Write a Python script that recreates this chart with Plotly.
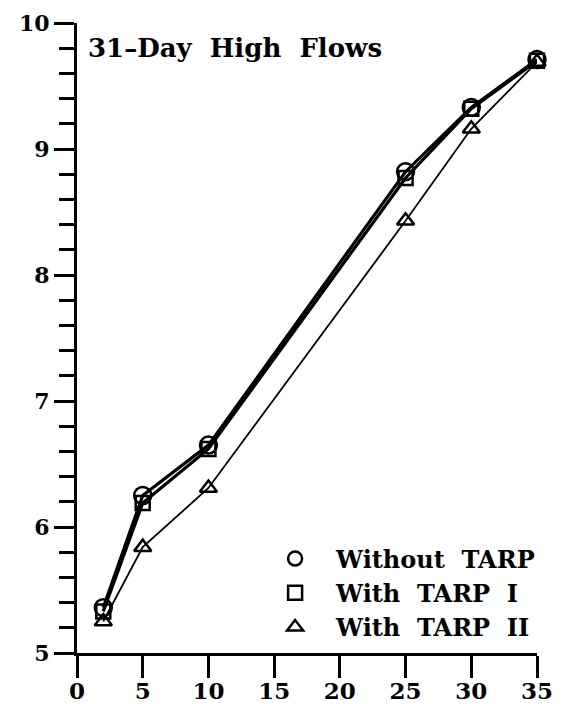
import plotly.graph_objects as go

x_vals = [2, 5, 10, 25, 30, 35]
without_tarp = [5.36, 6.25, 6.65, 8.82, 9.33, 9.71]
with_tarp_1 = [5.33, 6.19, 6.62, 8.77, 9.32, 9.70]
with_tarp_2 = [5.25, 5.84, 6.31, 8.43, 9.16, 9.69]
series_names = ["Without  TARP", "With  TARP  I", "With  TARP  II"]
x_ticks = [0, 5, 10, 15, 20, 25, 30, 35]
y_ticks = [5, 6, 7, 8, 9, 10]
title_text = "31\u2013Day  High  Flows"

FONT = "DejaVu Serif"
fig = go.Figure()

specs = [
    (with_tarp_2, series_names[2], "triangle-up-open", 1.8, 15),
    (with_tarp_1, series_names[1], "square-open", 3.2, 14),
    (without_tarp, series_names[0], "circle-open", 3.2, 17),
]
for ys, name, sym, lw, ms in specs:
    fig.add_trace(go.Scatter(
        x=x_vals, y=ys, mode="lines+markers", name=name, showlegend=False,
        line=dict(color="black", width=lw),
        marker=dict(symbol=sym, size=ms, color="black", line=dict(width=2.5, color="black")),
        cliponaxis=False,
    ))

# legend-only entries (markers only)
for i, (name, sym) in enumerate(zip(series_names, ["circle-open", "square-open", "triangle-up-open"])):
    fig.add_trace(go.Scatter(
        x=[None], y=[None], mode="markers", name=name, legendgroup=f"g{i}",
        marker=dict(symbol=sym, size=14, color="black", line=dict(width=2.5, color="black")),
    ))

fig.add_annotation(
    x=0.7, y=9.8, xref="x", yref="y", text=title_text, showarrow=False,
    xanchor="left", yanchor="middle",
    font=dict(family=FONT, size=26, color="black", weight="bold"),
)

fig.update_layout(
    width=554, height=698,
    margin=dict(l=69, r=25, t=15, b=53),
    paper_bgcolor="white", plot_bgcolor="white",
    font=dict(family=FONT, size=23, color="black", weight="bold"),
    legend=dict(
        x=0.385, y=0.185, xanchor="left", yanchor="top",
        bgcolor="rgba(0,0,0,0)", traceorder="grouped", tracegroupgap=0,
        font=dict(family=FONT, size=24, color="black", weight="bold"),
        itemwidth=72,
    ),
)
fig.update_xaxes(
    range=[0, 35], tickvals=x_ticks, showgrid=False, zeroline=False, automargin=False,
    showline=True, linecolor="black", linewidth=3, ticklabeloverflow="allow",
    ticklabelstandoff=-7,
    ticks="outside", ticklen=22, tickwidth=2.5, tickcolor="black",
)
fig.update_yaxes(
    range=[5, 10], tickvals=y_ticks, showgrid=False, zeroline=False, automargin=False,
    showline=True, linecolor="black", linewidth=3, ticklabeloverflow="allow",
    tickfont=dict(family=FONT, size=22, color="black", weight="bold"),
    ticks="outside", ticklen=20, tickwidth=2.5, tickcolor="black",
    minor=dict(dtick=0.2, ticks="outside", ticklen=15, tickwidth=2.5, tickcolor="black", showgrid=False),
)

fig.write_html("out.html")
